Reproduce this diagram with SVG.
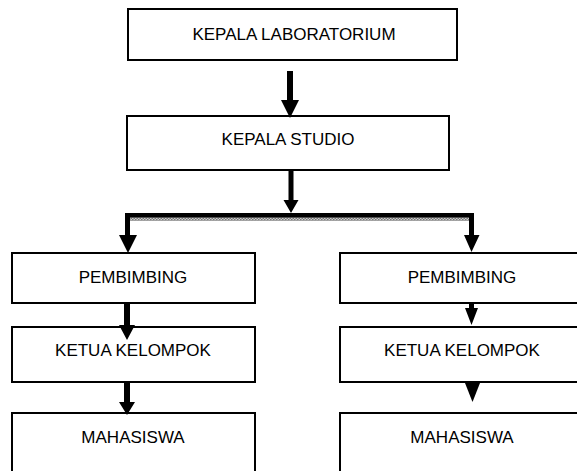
<svg xmlns="http://www.w3.org/2000/svg" width="577" height="471" viewBox="0 0 577 471">
<style>
.box{fill:#fff;stroke:#000;stroke-width:2}
.lbl{font-family:"Liberation Sans",Arial,sans-serif;font-size:17px;fill:#000;text-anchor:middle}
.arr{fill:#000}
</style>
<defs>
<pattern id="dots" width="3" height="3" patternUnits="userSpaceOnUse">
<rect width="3" height="3" fill="#ccc"/>
<rect width="1.5" height="1.5" fill="#777"/>
<rect x="1.5" y="1.5" width="1.5" height="1.5" fill="#777"/>
</pattern>
</defs>
<rect width="577" height="471" fill="#fff"/>
<g id="n1"><rect class="box" x="128" y="9" width="329" height="51"/><text class="lbl" x="294" y="40">KEPALA LABORATORIUM</text></g>
<g id="n2"><rect class="box" x="127" y="116" width="322" height="54"/><text class="lbl" x="288" y="145">KEPALA STUDIO</text></g>
<g id="n3"><rect class="box" x="12" y="253" width="243" height="50"/><text class="lbl" x="133" y="283">PEMBIMBING</text></g>
<g id="n4"><rect class="box" x="12" y="327" width="243" height="55"/><text class="lbl" x="133" y="356">KETUA KELOMPOK</text></g>
<g id="n5"><rect class="box" x="12" y="413" width="243" height="70"/><text class="lbl" x="133" y="443">MAHASISWA</text></g>
<g id="n6"><rect class="box" x="340" y="253" width="243" height="50"/><text class="lbl" x="462" y="283">PEMBIMBING</text></g>
<g id="n7"><rect class="box" x="340" y="327" width="243" height="55"/><text class="lbl" x="462" y="356">KETUA KELOMPOK</text></g>
<g id="n8"><rect class="box" x="340" y="413" width="243" height="70"/><text class="lbl" x="462" y="443">MAHASISWA</text></g>
<g id="connectors">
<path class="arr" d="M287,71 H293 V100 H299 L290,118 L281,100 H287 Z"/>
<path class="arr" d="M288.5,171 H293.5 V200 H298.5 L291,213 L283.5,200 H288.5 Z"/>
<rect x="130" y="217" width="340" height="4" fill="url(#dots)"/>
<rect class="arr" x="125" y="213" width="349" height="4.5"/>
<path class="arr" d="M125,213 H130 V235 H137 L128,253 L119,235 H125 Z"/>
<path class="arr" d="M469,213 H474 V235 H479.5 L471.5,252 L464,235 H469 Z"/>
<path class="arr" d="M124,303 H130 V325 H135 L127,340 L119,325 H124 Z"/>
<path class="arr" d="M124,382 H130 V402 H135 L127,415 L119,402 H124 Z"/>
<path class="arr" d="M469,303 H474 V308 H478 L471.5,325 L465,308 H469 Z"/>
<path class="arr" d="M465,383 H480 L472.5,402 Z"/>
</g>
</svg>
